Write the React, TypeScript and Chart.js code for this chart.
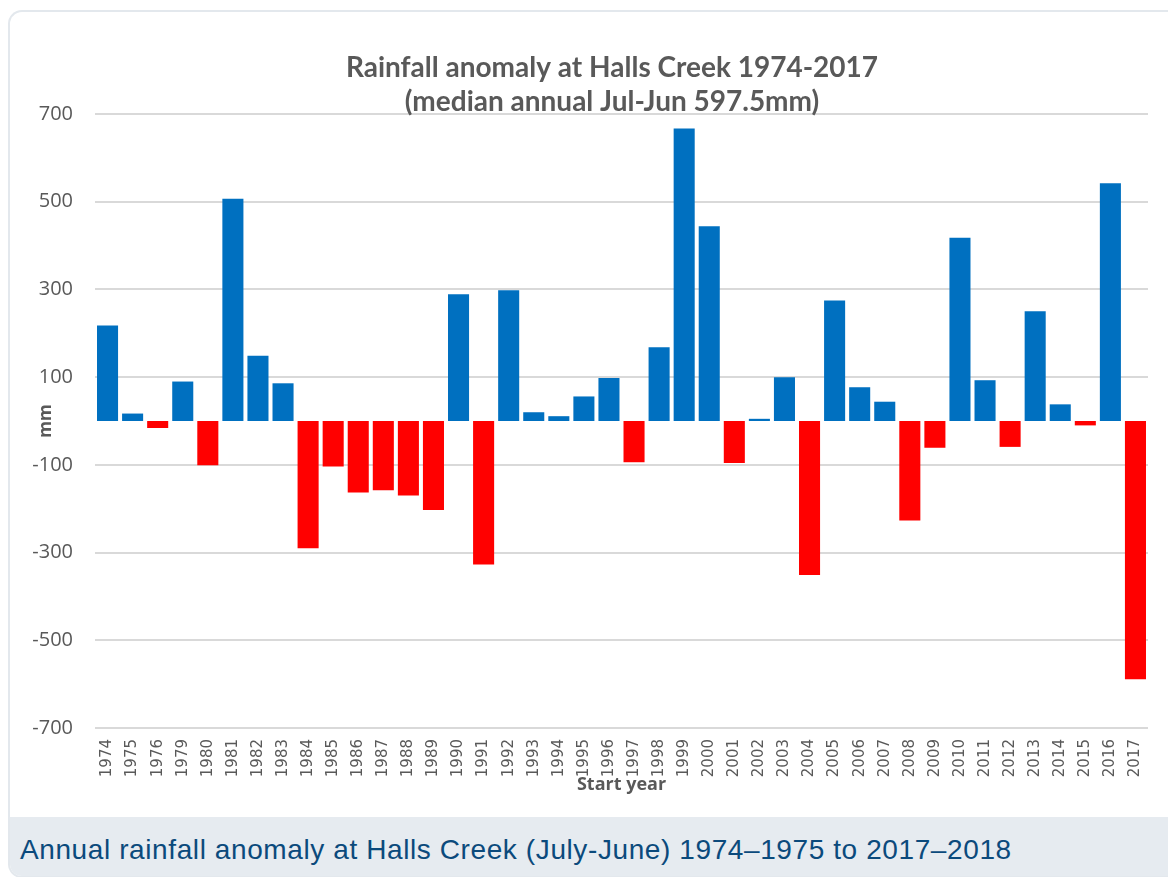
import React, { useEffect, useRef } from "react";
import { Chart, registerables } from "chart.js";

Chart.register(...registerables);

const startYears: string[] = [
  "1974", "1975", "1976", "1979", "1980", "1981", "1982", "1983", "1984", "1985",
  "1986", "1987", "1988", "1989", "1990", "1991", "1992", "1993", "1994", "1995",
  "1996", "1997", "1998", "1999", "2000", "2001", "2002", "2003", "2004", "2005",
  "2006", "2007", "2008", "2009", "2010", "2011", "2012", "2013", "2014", "2015",
  "2016", "2017",
];

const anomalyMm: number[] = [
  218, 17, -16, 90, -101, 507, 149, 86, -290, -104,
  -163, -158, -170, -203, 289, -327, 298, 20, 11, 56,
  98, -94, 168, 667, 444, -96, 5, 100, -351, 275,
  77, 44, -227, -61, 418, 93, -59, 250, 38, -10,
  542, -589,
];

const titleLines: string[] = [
  "Rainfall anomaly at Halls Creek 1974-2017",
  "(median annual Jul-Jun 597.5mm)",
];
const xAxisTitle = "Start year";
const yAxisTitle = "mm";
const yMin = -700;
const yMax = 700;
const yStep = 200;
const caption =
  "Annual rainfall anomaly at Halls Creek (July-June) 1974\u20131975 to 2017\u20132018";

const POSITIVE = "#0070c0";
const NEGATIVE = "#ff0000";
const TEXT_GREY = "#595959";

export default function App() {
  const canvasRef = useRef<HTMLCanvasElement | null>(null);

  useEffect(() => {
    document.documentElement.style.overflow = "hidden";
    document.body.style.overflow = "hidden";
    const canvas = canvasRef.current;
    if (!canvas) return;
    const chart = new Chart(canvas, {
      type: "bar",
      data: {
        labels: startYears,
        datasets: [
          {
            data: anomalyMm,
            backgroundColor: anomalyMm.map((v) => (v >= 0 ? POSITIVE : NEGATIVE)),
            barPercentage: 0.84,
            categoryPercentage: 1,
            borderWidth: 0,
          },
        ],
      },
      options: {
        responsive: false,
        animation: false,
        devicePixelRatio: 1,
        layout: { padding: { left: 0, right: 0, top: 0, bottom: 0 } },
        plugins: {
          legend: { display: false },
          tooltip: { enabled: false },
          title: {
            display: true,
            text: titleLines,
            color: TEXT_GREY,
            font: { family: "Lato", weight: "bold", size: 28, lineHeight: 1.22 },
            padding: { top: 39, bottom: -5.3 },
          },
        },
        scales: {
          x: {
            grid: { display: false, drawTicks: false },
            border: { display: false },
            ticks: {
              autoSkip: false,
              minRotation: 90,
              maxRotation: 90,
              padding: 11,
              color: TEXT_GREY,
              font: { family: "DejaVu Sans", size: 15 },
            },
            title: {
              display: true,
              text: xAxisTitle,
              color: TEXT_GREY,
              font: { family: "Open Sans", weight: "bold", size: 18, lineHeight: 1.2 },
              padding: { top: 0, bottom: 21 },
            },
            afterFit: (scale: any) => {
              scale.height = 89;
            },
          },
          y: {
            min: yMin,
            max: yMax,
            ticks: {
              stepSize: yStep,
              padding: 22,
              color: TEXT_GREY,
              font: { family: "Open Sans", size: 20 },
            },
            grid: { color: "#d9d9d9", lineWidth: 2, drawTicks: false },
            border: { display: false },
            title: {
              display: true,
              text: yAxisTitle,
              color: TEXT_GREY,
              font: { family: "Open Sans", weight: "bold", size: 17, lineHeight: 1.2 },
              padding: { top: 26, bottom: 0 },
            },
            afterFit: (scale: any) => {
              scale.width = 85;
            },
          },
          rightSpacer: {
            type: "linear",
            position: "right",
            display: true,
            grid: { display: false, drawTicks: false },
            border: { display: false },
            ticks: { display: false },
            afterFit: (scale: any) => {
              scale.width = 66;
            },
          },
        },
      },
    } as any);
    return () => chart.destroy();
  }, []);

  return (
    <div
      style={{
        position: "relative",
        marginTop: 2,
        width: 1168,
        height: 868,
        boxSizing: "border-box",
        border: "2px solid #e3e8ed",
        borderRight: "none",
        borderTopLeftRadius: 14,
        borderBottomLeftRadius: 14,
        overflow: "hidden",
        background: "#ffffff",
      }}
    >
      <canvas
        ref={canvasRef}
        width={1204}
        height={805}
        style={{ position: "absolute", left: 0, top: 0, width: 1204, height: 805 }}
      />
      <div
        style={{
          position: "absolute",
          left: 0,
          top: 805,
          width: "100%",
          height: 70,
          background: "#e6ebf0",
          boxSizing: "border-box",
          paddingLeft: 10,
          paddingTop: 19,
          fontFamily: "'Liberation Sans', Arial, sans-serif",
          fontSize: 28,
          letterSpacing: "0.6px",
          lineHeight: "28px",
          color: "#0b4a7c",
          whiteSpace: "nowrap",
        }}
      >
        {caption}
      </div>
    </div>
  );
}
